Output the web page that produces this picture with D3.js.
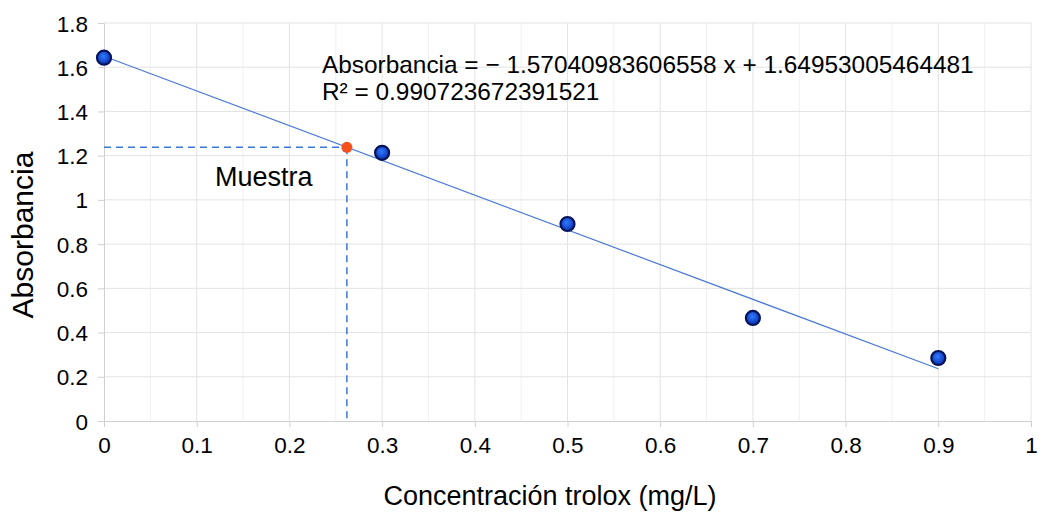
<!DOCTYPE html>
<html lang="es">
<head>
<meta charset="UTF-8">
<title>Curva trolox</title>
<script src="https://d3js.org/d3.v7.min.js"></script>
<style>
    body { margin: 0; background: #fff; }
    svg text { font-family: "Liberation Sans", Arial, sans-serif; fill: #000; }
</style>
</head>
<body>
<script>
// datos
var concentracion = [0, 0.3, 0.5, 0.7, 0.9];
var absorbancia = [1.643, 1.213, 0.891, 0.466, 0.285];
var muestraX = [0.262];
var muestraY = [1.238];
var pendiente = -1.57040983606558;
var intercepto = 1.64953005464481;
var xTicks = [0, 0.1, 0.2, 0.3, 0.4, 0.5, 0.6, 0.7, 0.8, 0.9, 1];
var yTicks = [0, 0.2, 0.4, 0.6, 0.8, 1, 1.2, 1.4, 1.6, 1.8];
var xMinor = [0.05, 0.15, 0.25, 0.35, 0.45, 0.55, 0.65, 0.75, 0.85, 0.95];

var width = 1041, height = 514;
var margin = { top: 23, right: 10, bottom: 93, left: 104 };

var svg = d3.select("body").append("svg")
    .attr("width", width).attr("height", height);

var x = d3.scaleLinear().domain([0, 1]).range([margin.left, 1031]);
var y = d3.scaleLinear().domain([0, 1.8]).range([421, margin.top]);

// gradiente para los puntos
var defs = svg.append("defs");
var grad = defs.append("radialGradient").attr("id", "punto")
    .attr("cx", "45%").attr("cy", "40%").attr("r", "60%");
grad.append("stop").attr("offset", "0%").attr("stop-color", "#2f7bff");
grad.append("stop").attr("offset", "100%").attr("stop-color", "#0a2fb0");

// rejilla menor
svg.append("g").selectAll("line").data(xMinor).enter().append("line")
    .attr("x1", d => x(d)).attr("x2", d => x(d))
    .attr("y1", y(1.8)).attr("y2", y(0))
    .attr("stroke", "#f0f0f0").attr("stroke-width", 1);

// rejilla mayor
svg.append("g").selectAll("line").data(xTicks.slice(1)).enter().append("line")
    .attr("x1", d => x(d)).attr("x2", d => x(d))
    .attr("y1", y(1.8)).attr("y2", y(0))
    .attr("stroke", "#e3e3e3").attr("stroke-width", 1);
svg.append("g").selectAll("line").data(yTicks.slice(1)).enter().append("line")
    .attr("x1", x(0)).attr("x2", x(1))
    .attr("y1", d => y(d)).attr("y2", d => y(d))
    .attr("stroke", "#e3e3e3").attr("stroke-width", 1);

// ejes
var xAxis = d3.axisBottom(x).tickValues(xTicks).tickSize(6).tickPadding(10)
    .tickFormat(d => d3.format("")(d));
var yAxis = d3.axisLeft(y).tickValues(yTicks).tickSize(6).tickPadding(10)
    .tickFormat(d => d3.format("")(d));

var gx = svg.append("g").attr("transform", "translate(0," + y(0) + ")").call(xAxis);
var gy = svg.append("g").attr("transform", "translate(" + x(0) + ",0)").call(yAxis);
[gx, gy].forEach(function (g) {
    g.select(".domain").attr("stroke", "#d0d0d0");
    g.selectAll(".tick line").attr("stroke", "#d0d0d0");
    g.selectAll(".tick text").attr("font-size", 22.5).attr("fill", "#000")
        .attr("font-family", "Liberation Sans, Arial, sans-serif");
});
gy.selectAll(".tick text").attr("dy", "0.36em");

// lineas discontinuas de la muestra
svg.append("line")
    .attr("x1", x(0)).attr("x2", x(muestraX[0]))
    .attr("y1", y(muestraY[0])).attr("y2", y(muestraY[0]))
    .attr("stroke", "#3c78d8").attr("stroke-width", 1.5)
    .attr("stroke-dasharray", "7,5");
svg.append("line")
    .attr("x1", x(muestraX[0])).attr("x2", x(muestraX[0]))
    .attr("y1", y(muestraY[0])).attr("y2", y(0))
    .attr("stroke", "#3c78d8").attr("stroke-width", 1.5)
    .attr("stroke-dasharray", "7,5");

// linea de tendencia
var xs = d3.extent(concentracion);
svg.append("line")
    .attr("x1", x(xs[0])).attr("y1", y(intercepto + pendiente * xs[0]))
    .attr("x2", x(xs[1])).attr("y2", y(intercepto + pendiente * xs[1]))
    .attr("stroke", "#4a7bd0").attr("stroke-width", 1.2);

// puntos
svg.append("g").selectAll("circle").data(concentracion).enter().append("circle")
    .attr("cx", d => x(d))
    .attr("cy", (d, i) => y(absorbancia[i]))
    .attr("r", 7)
    .attr("fill", "url(#punto)")
    .attr("stroke", "#03135a").attr("stroke-width", 2.2);

svg.append("circle")
    .attr("cx", x(muestraX[0])).attr("cy", y(muestraY[0]))
    .attr("r", 5.5).attr("fill", "#f4511e");

// textos
svg.append("text").attr("x", 322).attr("y", 73).attr("font-size", 24.4)
    .text("Absorbancia = − 1.57040983606558 x + 1.64953005464481");
svg.append("text").attr("x", 322).attr("y", 100).attr("font-size", 24.4)
    .text("R² = 0.990723672391521");
svg.append("text").attr("x", 215).attr("y", 186).attr("font-size", 27)
    .text("Muestra");

svg.append("text").attr("x", 550).attr("y", 505).attr("font-size", 27)
    .attr("text-anchor", "middle").text("Concentración trolox (mg/L)");
svg.append("text")
    .attr("transform", "translate(33,235) rotate(-90)")
    .attr("font-size", 30).attr("text-anchor", "middle").text("Absorbancia");
</script>
</body>
</html>
